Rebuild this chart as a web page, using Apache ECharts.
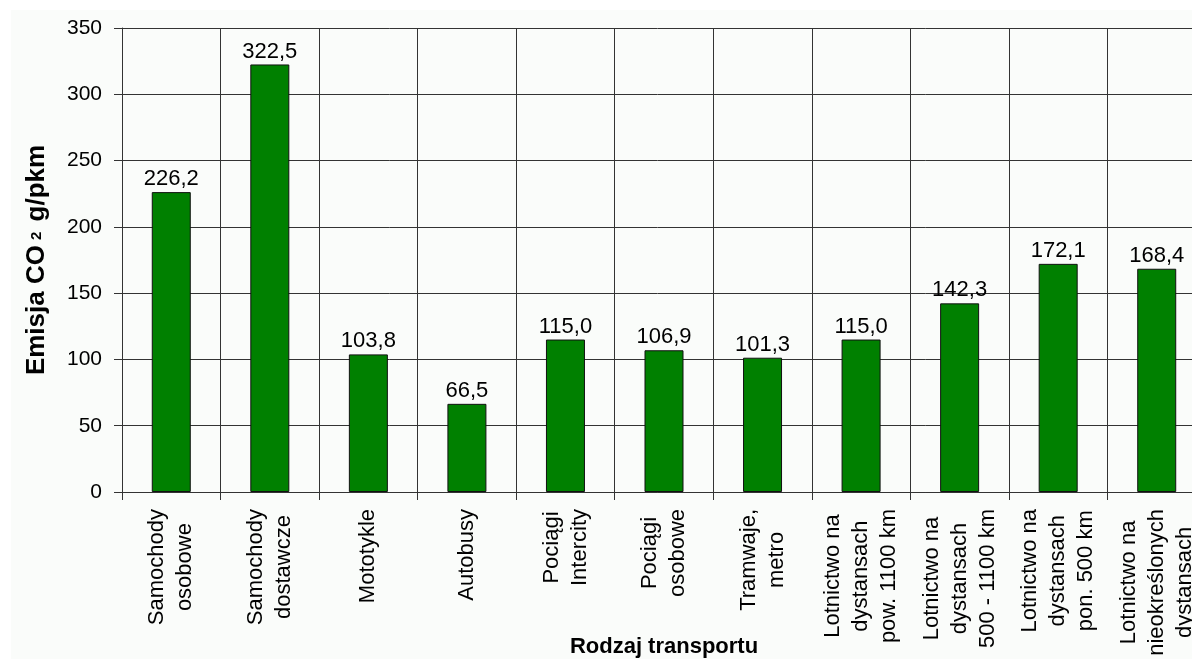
<!DOCTYPE html>
<html>
<head>
<meta charset="utf-8">
<script src="https://cdn.jsdelivr.net/npm/echarts@6/dist/echarts.min.js"></script>
<style>
  html, body { margin: 0; padding: 0; background: #ffffff; }
  #panel { position: absolute; left: 11px; top: 10px; width: 1181px; height: 649px; background: #fafcfa; }
  #chart { position: absolute; left: 0; top: 0; width: 1192px; height: 659px; }
</style>
</head>
<body>
<div id="panel"></div>
<div id="chart"></div>
<script>
// Transport modes (multi-line axis labels)
const categories = [
  'Samochody\nosobowe',
  'Samochody\ndostawcze',
  'Mototykle',
  'Autobusy',
  'Pociągi\nIntercity',
  'Pociągi\nosobowe',
  'Tramwaje,\nmetro',
  'Lotnictwo na\ndystansach\npow. 1100 km',
  'Lotnictwo na\ndystansach\n500 - 1100 km',
  'Lotnictwo na\ndystansach\npon. 500 km',
  'Lotnictwo na\nnieokreślonych\ndystansach'
];

// CO2 emission, g per passenger-km
const emissions = [226.2, 322.5, 103.8, 66.5, 115.0, 106.9, 101.3, 115.0, 142.3, 172.1, 168.4];

// Value axis range
const yMin = 0;
const yMax = 350;
const yStep = 50;

const FONT = '"Liberation Sans", Arial, sans-serif';
const GRID_COLOR = '#333333';

const chart = echarts.init(document.getElementById('chart'), null, { renderer: 'canvas' });

chart.setOption({
  backgroundColor: 'transparent',
  animation: false,
  grid: { left: 122, right: -14, top: 28, bottom: 167, containLabel: false, outerBoundsMode: 'none' },
  xAxis: {
    type: 'category',
    data: categories,
    name: 'Rodzaj transportu',
    nameLocation: 'middle',
    nameGap: 144,
    nameMoveOverlap: false,
    nameTextStyle: { fontFamily: FONT, fontSize: 22, fontWeight: 'bold', color: '#000', verticalAlign: 'top' },
    axisLine: { show: true, lineStyle: { color: GRID_COLOR, width: 1 } },
    axisTick: { show: true, length: 8, alignWithLabel: false, lineStyle: { color: GRID_COLOR, width: 1 } },
    splitLine: { show: true, lineStyle: { color: GRID_COLOR, width: 1 } },
    axisLabel: {
      interval: 0,
      rotate: 90,
      margin: 17,
      hideOverlap: false,
      color: '#000',
      fontFamily: FONT,
      fontSize: 22,
      lineHeight: 28,
      formatter: function (v) {
        return v.split('\n').map(function (s) { return '{c|' + s + '}'; }).join('\n');
      },
      rich: {
        c: { align: 'center', fontFamily: FONT, fontSize: 22, lineHeight: 28, color: '#000' }
      }
    }
  },
  yAxis: {
    type: 'value',
    min: yMin,
    max: yMax,
    interval: yStep,
    name: 'Emisja CO{sub|2} g/pkm',
    nameLocation: 'middle',
    nameRotate: 90,
    nameGap: 72,
    nameTextStyle: {
      fontFamily: FONT, fontSize: 26, fontWeight: 'bold', color: '#000',
      rich: {
        sub: { fontFamily: FONT, fontSize: 15, fontWeight: 'bold', color: '#000', padding: [0, 3, 0, 5] }
      }
    },
    axisLine: { show: true, lineStyle: { color: GRID_COLOR, width: 1 } },
    axisTick: { show: true, length: 8, lineStyle: { color: GRID_COLOR, width: 1 } },
    splitLine: { show: true, lineStyle: { color: GRID_COLOR, width: 1 } },
    axisLabel: { margin: 20, color: '#000', fontFamily: FONT, fontSize: 21 }
  },
  series: [{
    type: 'bar',
    data: emissions,
    barWidth: 39,
    itemStyle: { color: '#008000', borderColor: '#111', borderWidth: 1 },
    label: {
      show: true,
      position: 'top',
      distance: 2,
      color: '#000',
      fontFamily: FONT,
      fontSize: 22,
      formatter: function (p) { return p.value.toFixed(1).replace('.', ','); }
    }
  }]
});
</script>
</body>
</html>
